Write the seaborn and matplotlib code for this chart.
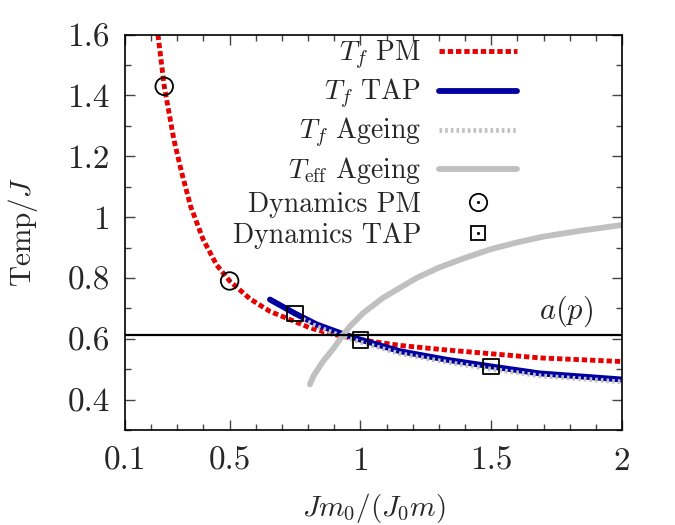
import numpy as np
import pandas as pd
import seaborn as sns
import matplotlib
matplotlib.use("Agg")
import matplotlib.pyplot as plt
from matplotlib.lines import Line2D
from matplotlib.legend_handler import HandlerTuple
from matplotlib.ticker import FixedLocator, FixedFormatter, MultipleLocator

# Freezing temperature, paramagnetic (PM) solution
x_pm = [0.226, 0.25, 0.287, 0.317, 0.351, 0.399, 0.45, 0.50, 0.578, 0.654,
        0.731, 0.807, 0.884, 0.96, 1.037, 1.151, 1.33, 1.495, 1.686, 2.0]
y_pm = [1.60, 1.43, 1.254, 1.145, 1.035, 0.926, 0.843, 0.790, 0.731, 0.690,
        0.663, 0.636, 0.617, 0.603, 0.592, 0.578, 0.563, 0.551, 0.537, 0.525]

# Freezing temperature, TAP solution
x_tap = [0.654, 0.75, 0.833, 0.922, 1.0, 1.151, 1.33, 1.5, 1.686, 2.0]
y_tap = [0.729, 0.683, 0.647, 0.619, 0.597, 0.559, 0.531, 0.509, 0.486, 0.466]

# Freezing temperature, ageing
x_age = [0.78, 0.833, 0.922, 1.0, 1.151, 1.33, 1.5, 1.686, 2.0]
y_age = [0.664, 0.640, 0.611, 0.589, 0.551, 0.523, 0.500, 0.478, 0.458]

# Effective temperature, ageing
x_eff = [0.807, 0.82, 0.858, 0.896, 0.935, 0.96, 1.011, 1.087, 1.215, 1.30,
         1.40, 1.50, 1.60, 1.70, 1.84, 2.0]
y_eff = [0.450, 0.477, 0.527, 0.567, 0.614, 0.641, 0.685, 0.735, 0.800, 0.834,
         0.866, 0.895, 0.917, 0.936, 0.955, 0.974]

# Simulated dynamics
x_dyn_pm = [0.25, 0.50]
y_dyn_pm = [1.43, 0.790]
x_dyn_tap = [0.75, 1.0, 1.5]
y_dyn_tap = [0.683, 0.597, 0.509]

a_p = 0.611

x_ticks = [0.1, 0.5, 1.0, 1.5, 2.0]
x_ticklabels = ['0.1', '0.5', '1', '1.5', '2']
y_ticks = [0.4, 0.6, 0.8, 1.0, 1.2, 1.4, 1.6]
y_ticklabels = ['0.4', '0.6', '0.8', '1', '1.2', '1.4', '1.6']

labels = [r'$T_f$ PM', r'$T_f$ TAP', r'$T_f$ Ageing', r'$T_{\rm eff}$ Ageing',
          'Dynamics PM', 'Dynamics TAP']

sns.set_style("ticks")
plt.rcParams['font.family'] = ['cmr10', 'DejaVu Serif']
plt.rcParams['mathtext.fontset'] = 'cm'
plt.rcParams['axes.formatter.use_mathtext'] = True
plt.rcParams['font.size'] = 20
plt.rcParams['axes.linewidth'] = 1.2
plt.rcParams['axes.edgecolor'] = 'black'

red = '#e60000'
blue = '#0000a0'
grey = '#c0c0c0'

fig = plt.figure(figsize=(6.75, 5.25), dpi=100)
ax = fig.add_axes([0.1852, 0.181, 0.7363, 0.753])

sns.lineplot(x=x_pm, y=y_pm, ax=ax, color=red, linewidth=3.5,
             linestyle=(0, (1.1, 0.6)))
sns.lineplot(x=x_tap, y=y_tap, ax=ax, color=blue, linewidth=4.2)
sns.lineplot(x=x_age, y=y_age, ax=ax, color=grey, linewidth=3.4,
             linestyle=(0, (0.55, 0.65)))
sns.lineplot(x=x_eff, y=y_eff, ax=ax, color=grey, linewidth=4.2)
line_handles = list(ax.get_lines())

ax.axhline(a_p, color='black', linewidth=1.6)
ax.text(1.89, a_p + 0.02, r'$a(p)$', ha='right', va='bottom', fontsize=22)

sns.scatterplot(x=x_dyn_pm, y=y_dyn_pm, ax=ax, marker='o', s=160,
                facecolor='none', edgecolor='black', linewidth=1.3, zorder=5)
sns.scatterplot(x=x_dyn_pm, y=y_dyn_pm, ax=ax, marker='.', s=6,
                color='black', linewidth=0, zorder=5)
sns.scatterplot(x=x_dyn_tap, y=y_dyn_tap, ax=ax, marker='s', s=130,
                facecolor='none', edgecolor='black', linewidth=1.3, zorder=5)
sns.scatterplot(x=x_dyn_tap, y=y_dyn_tap, ax=ax, marker='.', s=6,
                color='black', linewidth=0, zorder=5)

ax.set_xlim(0.1, 2.0)
ax.set_ylim(0.3, 1.6)
ax.xaxis.set_major_locator(FixedLocator(x_ticks))
ax.xaxis.set_major_formatter(FixedFormatter(x_ticklabels))
ax.yaxis.set_major_locator(FixedLocator(y_ticks))
ax.yaxis.set_major_formatter(FixedFormatter(y_ticklabels))
ax.xaxis.set_minor_locator(MultipleLocator(0.1))
ax.yaxis.set_minor_locator(MultipleLocator(0.1))
ax.tick_params(which='both', direction='in', top=True, right=True,
               color='#444444', width=1.0, labelsize=24)
ax.tick_params(which='major', length=7)
ax.tick_params(which='minor', length=4)
ax.tick_params(axis='x', which='major', pad=12)
ax.tick_params(axis='y', which='major', pad=11)

ax.set_xlabel(r'$Jm_0/(J_0m)$', fontsize=21)
ax.set_ylabel(r'$\mathrm{Temp}/J$', fontsize=21)
ax.xaxis.set_label_coords(0.5, -0.155)
ax.yaxis.set_label_coords(-0.172, 0.5)

circ = (Line2D([], [], marker='o', ms=12.5, mfc='none', mec='black', mew=1.3, ls='none'),
        Line2D([], [], marker='.', ms=2.5, color='black', ls='none'))
sq = (Line2D([], [], marker='s', ms=10.5, mfc='none', mec='black', mew=1.3, ls='none'),
      Line2D([], [], marker='.', ms=2.5, color='black', ls='none'))
handles = line_handles + [circ, sq]

ax.legend(handles, labels, handler_map={tuple: HandlerTuple(ndivide=1)},
          loc='upper right', bbox_to_anchor=(0.789, 0.99), frameon=False,
          markerfirst=False, handlelength=2.8, handletextpad=0.65,
          labelspacing=0.18, borderpad=0, borderaxespad=0, fontsize=20)

fig.savefig('out.png', dpi=100)
